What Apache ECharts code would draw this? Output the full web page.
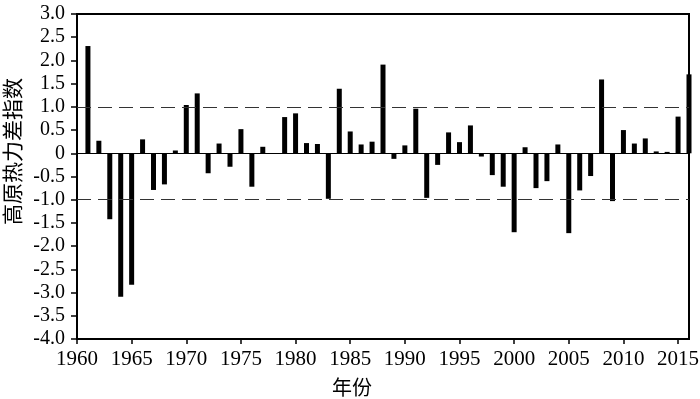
<!DOCTYPE html>
<html>
<head>
<meta charset="utf-8">
<script src="https://cdn.jsdelivr.net/npm/echarts@6/dist/echarts.min.js"></script>
<style>
  html, body { margin: 0; padding: 0; background: #fff; }
  #chart { width: 700px; height: 399px; }
</style>
</head>
<body>
<div id="chart"></div>
<script>
// 年份 1961-2016
const years = [
  1961, 1962, 1963, 1964, 1965, 1966, 1967, 1968, 1969, 1970,
  1971, 1972, 1973, 1974, 1975, 1976, 1977, 1978, 1979, 1980,
  1981, 1982, 1983, 1984, 1985, 1986, 1987, 1988, 1989, 1990,
  1991, 1992, 1993, 1994, 1995, 1996, 1997, 1998, 1999, 2000,
  2001, 2002, 2003, 2004, 2005, 2006, 2007, 2008, 2009, 2010,
  2011, 2012, 2013, 2014, 2015, 2016
]
// 高原热力差指数
const index = [
  2.31, 0.27, -1.42, -3.09, -2.83, 0.30, -0.79, -0.67, 0.06, 1.04,
  1.29, -0.43, 0.21, -0.29, 0.52, -0.72, 0.14, 0.00, 0.78, 0.86,
  0.22, 0.20, -0.98, 1.39, 0.47, 0.19, 0.25, 1.91, -0.12, 0.17,
  0.96, -0.96, -0.25, 0.45, 0.24, 0.60, -0.07, -0.47, -0.72, -1.70,
  0.13, -0.75, -0.60, 0.19, -1.72, -0.80, -0.49, 1.59, -1.03, 0.50,
  0.21, 0.32, 0.04, 0.03, 0.79, 1.70
]
const thresholds = [1.0, -1.0]

const serif = '"Liberation Serif", "DejaVu Serif", serif'
const chart = echarts.init(document.getElementById('chart'))

chart.setOption({
  animation: false,
  grid: {
    left: 77,
    right: 11,
    top: 14,
    bottom: 60,
    outerBoundsMode: 'none',
    show: true,
    borderColor: '#000',
    borderWidth: 2,
    backgroundColor: 'transparent'
  },
  xAxis: {
    type: 'value',
    min: 1960,
    max: 2016,
    interval: 5,
    name: '年份',
    nameLocation: 'middle',
    nameGap: 38,
    nameTextStyle: {
      fontFamily: '"Noto Sans CJK SC"', fontSize: 20, color: '#000',
      padding: [0, 62, 0, 0]
    },
    axisLine: { onZero: false, lineStyle: { color: '#000', width: 2 } },
    axisTick: { inside: false, length: 5, lineStyle: { color: '#000', width: 1.5 } },
    axisLabel: {
      showMaxLabel: false,
      margin: 10,
      fontFamily: serif,
      fontSize: 21,
      color: '#000',
      formatter: v => String(v)
    },
    splitLine: { show: false }
  },
  yAxis: {
    type: 'value',
    min: -4,
    max: 3,
    interval: 0.5,
    name: '高原热力差指数',
    nameLocation: 'middle',
    nameGap: 54,
    nameTextStyle: {
      fontFamily: '"Noto Sans CJK SC"', fontSize: 21, color: '#000',
      padding: [0, 0, 0, 50]
    },
    axisLine: { onZero: false, lineStyle: { color: '#000', width: 2 } },
    axisTick: { inside: false, length: 6, lineStyle: { color: '#000', width: 1.5 } },
    axisLabel: {
      margin: 12,
      fontFamily: serif,
      fontSize: 20,
      color: '#000',
      formatter: v => (v === 0 ? '0' : v.toFixed(1))
    },
    splitLine: { show: false }
  },
  series: [{
    type: 'bar',
    data: years.map((y, i) => [y, index[i]]),
    barWidth: 5,
    itemStyle: { color: '#000' },
    markLine: {
      silent: true,
      symbol: 'none',
      label: { show: false },
      data: [
        ...thresholds.map(t => ({
          yAxis: t,
          lineStyle: { color: '#333', width: 1.2, type: [14, 7] }
        })),
        { yAxis: 0, lineStyle: { color: '#000', width: 1, type: 'solid' } }
      ]
    }
  }]
})
</script>
</body>
</html>
